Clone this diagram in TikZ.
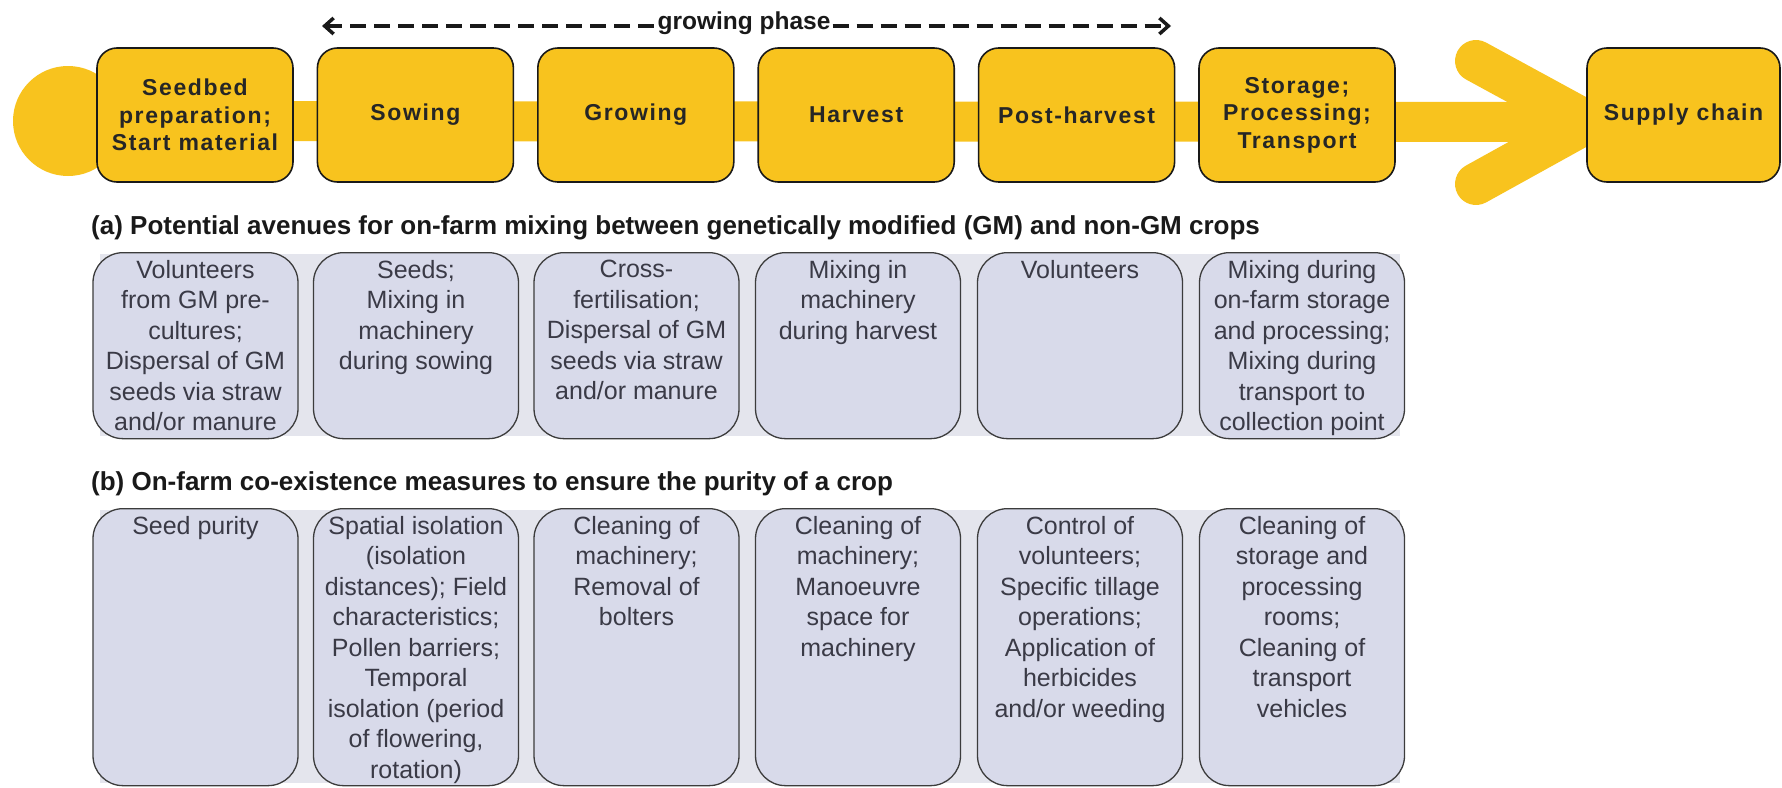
\documentclass[tikz,border=0pt]{standalone}
\usepackage{fontspec}
\setmainfont{Liberation Sans}
\usetikzlibrary{arrows.meta}
\definecolor{ylw}{HTML}{F8C31E}
\definecolor{boxfill}{HTML}{D8DAEA}
\definecolor{bgfill}{HTML}{E4E5ED}
\definecolor{txt}{HTML}{3A3A46}
\definecolor{edge}{HTML}{3C3C3C}
\begin{document}
\begin{tikzpicture}[x=1pt,y=-1pt,
  stage/.style={draw=black!90, line width=1.6pt, fill=ylw, rounded corners=20pt,
    minimum width=196pt, minimum height=134pt, align=center, inner sep=0pt,
    font=\fontsize{23}{27.5}\selectfont\bfseries\addfontfeature{LetterSpace=7}, text=black!85},
  cellA/.style={draw=edge, line width=1.3pt, fill=boxfill, rounded corners=30pt,
    minimum width=205pt, minimum height=186pt, anchor=north, inner sep=0pt},
  cellB/.style={cellA, minimum height=277pt},
  celltext/.style={anchor=north, align=center, inner sep=0pt, yshift=-8pt,
    font=\fontsize{25}{30.5}\selectfont, text=txt},
  rowtitle/.style={anchor=west, inner sep=0pt, font=\fontsize{26}{30}\selectfont\bfseries, text=black!90},
  phase/.style={draw=black!90, line width=3.5pt, dash pattern=on 16pt off 8pt},
  ribbon/.style={draw=ylw, line width=40pt}
]
\useasboundingbox (0,0) rectangle (1782,787);

% yellow flow ribbon
\node[circle, fill=ylw, minimum size=110pt, inner sep=0pt] (c) at (68,121) {};
\coordinate (apex) at (1588,122);
\coordinate (ct) at (1476,61);
\coordinate (cb) at (1476,184);
\draw[ribbon] (c.center) -- (apex);
\draw[ribbon, line width=42pt, line cap=round, line join=round] (ct) -- (apex) -- (cb);

% stages
\node[stage] (s1) at (195,115) {Seedbed\\preparation;\\Start material};
\node[stage] (s2) at (415.4,115) {Sowing};
\node[stage] (s3) at (635.8,115) {Growing};
\node[stage] (s4) at (856.2,115) {Harvest};
\node[stage] (s5) at (1076.6,115) {Post-harvest};
\node[stage] (s6) at (1297,115) {Storage;\\Processing;\\Transport};
\node[stage, minimum width=193pt] (s7) at (1683.5,115) {Supply chain};

% growing phase
\node[inner sep=2pt, font=\fontsize{24.5}{28}\selectfont\bfseries, text=black!90] (gp) at (744,23) {growing phase};
\coordinate (dl) at (322,26);
\coordinate (dr) at (1171,26);
\draw[phase, {Straight Barb[length=9pt,width=16pt]}-] (dl) -- (gp.west |- dl);
\draw[phase, -{Straight Barb[length=9pt,width=16pt]}] (gp.east |- dr) -- (dr);

% row (a)
\node[rowtitle] (ta) at (91,228) {(a) Potential avenues for on-farm mixing between genetically modified (GM) and non-GM crops};
\fill[bgfill] (100,254) rectangle (1400,436);
\node[cellA] (a1) at (195.5,252) {};
\node[cellA] (a2) at (416,252) {};
\node[cellA] (a3) at (636.5,252) {};
\node[cellA] (a4) at (858,252) {};
\node[cellA] (a5) at (1080,252) {};
\node[cellA] (a6) at (1302,252) {};
\node[celltext] (a1t) at (a1.north) {Volunteers\\from GM pre-\\cultures;\\Dispersal of GM\\seeds via straw\\and/or manure};
\node[celltext] (a2t) at (a2.north) {Seeds;\\Mixing in\\machinery\\during sowing};
\node[celltext] (a3t) at (a3.north) {Cross-\\fertilisation;\\Dispersal of GM\\seeds via straw\\and/or manure};
\node[celltext] (a4t) at (a4.north) {Mixing in\\machinery\\during harvest};
\node[celltext] (a5t) at (a5.north) {Volunteers};
\node[celltext] (a6t) at (a6.north) {Mixing during\\on-farm storage\\and processing;\\Mixing during\\transport to\\collection point};

% row (b)
\node[rowtitle] (tb) at (91,484) {(b) On-farm co-existence measures to ensure the purity of a crop};
\fill[bgfill] (100,510) rectangle (1400,783);
\node[cellB] (b1) at (195.5,508) {};
\node[cellB] (b2) at (416,508) {};
\node[cellB] (b3) at (636.5,508) {};
\node[cellB] (b4) at (858,508) {};
\node[cellB] (b5) at (1080,508) {};
\node[cellB] (b6) at (1302,508) {};
\node[celltext] (b1t) at (b1.north) {Seed purity};
\node[celltext] (b2t) at (b2.north) {Spatial isolation\\(isolation\\distances); Field\\characteristics;\\Pollen barriers;\\Temporal\\isolation (period\\of flowering,\\rotation)};
\node[celltext] (b3t) at (b3.north) {Cleaning of\\machinery;\\Removal of\\bolters};
\node[celltext] (b4t) at (b4.north) {Cleaning of\\machinery;\\Manoeuvre\\space for\\machinery};
\node[celltext] (b5t) at (b5.north) {Control of\\volunteers;\\Specific tillage\\operations;\\Application of\\herbicides\\and/or weeding};
\node[celltext] (b6t) at (b6.north) {Cleaning of\\storage and\\processing\\rooms;\\Cleaning of\\transport\\vehicles};
\end{tikzpicture}
\end{document}
